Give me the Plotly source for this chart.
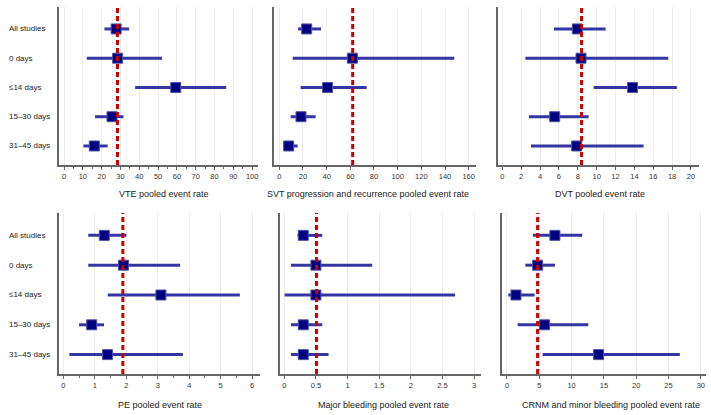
import plotly.graph_objects as go

W, H = 711, 415

categories = ["All studies", "0 days", "≤14 days", "15–30 days", "31–45 days"]

vte_est = [27.7, 28.5, 59.4, 25.5, 16.1]
vte_lo = [21.5, 12.1, 37.8, 16.5, 10.3]
vte_hi = [34.6, 52.1, 86.2, 31.6, 23.2]
vte_pooled = 28.4

svt_est = [23.1, 61.7, 40.8, 18.3, 7.9]
svt_lo = [15.8, 11.3, 18.0, 9.6, 3.4]
svt_hi = [35.2, 147.9, 73.8, 30.7, 15.5]
svt_pooled = 62.0

dvt_est = [7.95, 8.34, 13.8, 5.55, 7.88]
dvt_lo = [5.48, 2.44, 9.68, 2.83, 3.04]
dvt_hi = [10.95, 17.6, 18.5, 9.15, 14.98]
dvt_pooled = 8.4

pe_est = [1.30, 1.91, 3.10, 0.90, 1.40]
pe_lo = [0.79, 0.79, 1.41, 0.50, 0.19]
pe_hi = [2.00, 3.71, 5.61, 1.29, 3.80]
pe_pooled = 1.89

mb_est = [0.30, 0.50, 0.50, 0.30, 0.30]
mb_lo = [0.21, 0.105, 0.005, 0.105, 0.105]
mb_hi = [0.60, 1.39, 2.70, 0.60, 0.70]
mb_pooled = 0.51

crnm_est = [7.42, 4.74, 1.39, 5.82, 14.18]
crnm_lo = [4.02, 2.84, 0.21, 1.65, 5.52]
crnm_hi = [11.65, 7.42, 4.28, 12.58, 26.75]
crnm_pooled = 4.74

titles = ["VTE pooled event rate", "SVT progression and recurrence pooled event rate",
          "DVT pooled event rate", "PE pooled event rate",
          "Major bleeding pooled event rate", "CRNM and minor bleeding pooled event rate"]

panels = [
    dict(est=vte_est, lo=vte_lo, hi=vte_hi, pooled=vte_pooled, px=(59, 258), py=(7, 165),
         rng=[-2.66, 103.1], dtick=10, minor=5, tcx=164, tcy=194),
    dict(est=svt_est, lo=svt_lo, hi=svt_hi, pooled=svt_pooled, px=(274, 476), py=(7, 165),
         rng=[-4.5, 166.2], dtick=20, minor=None, tcx=368, tcy=194),
    dict(est=dvt_est, lo=dvt_lo, hi=dvt_hi, pooled=dvt_pooled, px=(498, 699), py=(7, 165),
         rng=[-0.46, 20.85], dtick=2, minor=None, tcx=600, tcy=194),
    dict(est=pe_est, lo=pe_lo, hi=pe_hi, pooled=pe_pooled, px=(59, 260), py=(213, 374),
         rng=[-0.14, 6.25], dtick=1, minor=0.5, tcx=160, tcy=405),
    dict(est=mb_est, lo=mb_lo, hi=mb_hi, pooled=mb_pooled, px=(280, 481), py=(213, 374),
         rng=[-0.068, 3.11], dtick=0.5, minor=None, tcx=384, tcy=405),
    dict(est=crnm_est, lo=crnm_lo, hi=crnm_hi, pooled=crnm_pooled, px=(502, 706), py=(213, 374),
         rng=[-0.77, 30.8], dtick=5, minor=None, tcx=611, tcy=405),
]

ypos = [1, 2, 3, 4, 5]
FONT = "Liberation Sans, Arial, Helvetica, sans-serif"

fig = go.Figure()
layout = dict(width=W, height=H, margin=dict(l=0, r=0, t=0, b=0),
              plot_bgcolor="white", paper_bgcolor="white", showlegend=False,
              font=dict(family=FONT, size=8, color="#222"))
shapes = []
annotations = []

for i, p in enumerate(panels):
    n = i + 1
    xa = "xaxis" if n == 1 else f"xaxis{n}"
    ya = "yaxis" if n == 1 else f"yaxis{n}"
    xr = "x" if n == 1 else f"x{n}"
    yr = "y" if n == 1 else f"y{n}"
    fig.add_trace(go.Scatter(
        x=p["est"], y=ypos, mode="markers", xaxis=xr, yaxis=yr,
        marker=dict(symbol="square", size=10, color="#000080",
                    line=dict(color="#5050a8", width=1)),
        error_x=dict(type="data", symmetric=False,
                     array=[h - e for h, e in zip(p["hi"], p["est"])],
                     arrayminus=[e - l for e, l in zip(p["est"], p["lo"])],
                     color="#3535a2", thickness=3, width=0),
    ))
    xaxis = dict(domain=[p["px"][0] / W, p["px"][1] / W], range=p["rng"], anchor=yr,
                 showgrid=True, gridcolor="#ececec", gridwidth=1, dtick=p["dtick"], tick0=0,
                 zeroline=False, showline=True, linecolor="#666", linewidth=1.5,
                 ticks="outside", ticklen=3, tickcolor="#666",
                 tickfont=dict(size=7.5, color="#333"), fixedrange=True)
    if p["minor"]:
        xaxis["minor"] = dict(dtick=p["minor"], tick0=0, ticks="outside", ticklen=2,
                              tickcolor="#666", showgrid=False)
    yaxis = dict(domain=[1 - p["py"][1] / H, 1 - p["py"][0] / H], anchor=xr,
                 range=[5.65, 0.25], showgrid=False, zeroline=False, showticklabels=False,
                 showline=True, linecolor="#666", linewidth=1.5, ticks="", fixedrange=True)
    layout[xa] = xaxis
    layout[ya] = yaxis
    shapes.append(dict(type="line", xref=xr, yref=f"{yr} domain", x0=p["pooled"], x1=p["pooled"],
                       y0=0, y1=1, line=dict(color="#cc0000", width=3, dash="5px,3px"), layer="above"))
    annotations.append(dict(text=titles[i], xref="paper", yref="paper",
                            x=p["tcx"] / W, y=1 - p["tcy"] / H, xanchor="center", yanchor="middle",
                            showarrow=False, font=dict(size=9, color="#222")))
    if n in (1, 4):
        for c, yv in zip(categories, ypos):
            annotations.append(dict(text=c, xref="paper", yref=yr, x=7 / W, y=yv,
                                    xanchor="left", yanchor="middle", showarrow=False,
                                    font=dict(size=8, color="#222")))

layout["shapes"] = shapes
layout["annotations"] = annotations
fig.update_layout(**layout)
fig.write_html("out.html", config={"displayModeBar": False},
               post_script="document.body.style.margin='0';document.body.style.overflow='hidden';")
